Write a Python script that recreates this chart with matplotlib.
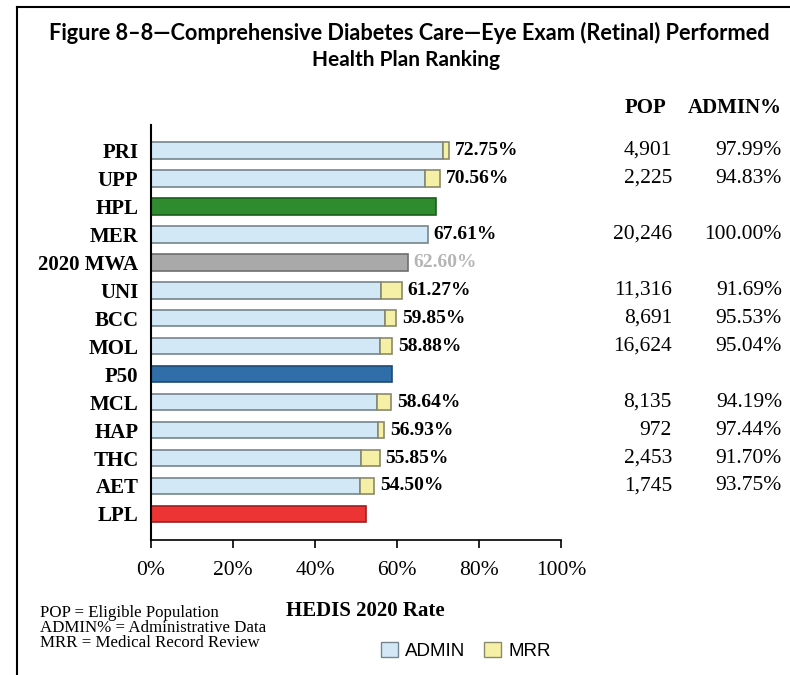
import numpy as np
import matplotlib.pyplot as plt
from matplotlib.patches import Patch
from matplotlib.lines import Line2D
from matplotlib.transforms import blended_transform_factory

plans = ["PRI", "UPP", "HPL", "MER", "2020 MWA", "UNI", "BCC", "MOL",
         "P50", "MCL", "HAP", "THC", "AET", "LPL"]
rates = [72.75, 70.56, 69.59, 67.61, 62.60, 61.27, 59.85, 58.88,
         58.88, 58.64, 56.93, 55.85, 54.50, 52.40]
admin_pct = [97.99, 94.83, None, 100.00, None, 91.69, 95.53, 95.04,
             None, 94.19, 97.44, 91.70, 93.75, None]
pop = ["4,901", "2,225", "", "20,246", "", "11,316", "8,691", "16,624",
       "", "8,135", "972", "2,453", "1,745", ""]

# benchmark rows drawn as single solid bars
bench_colors = {"HPL": ("#2e8b2e", "#1d5e1d"), "2020 MWA": ("#a9a9a9", "#6e6e6e"),
                "P50": ("#2f6ea8", "#1f4a72"), "LPL": ("#ec3434", "#9e1f1f")}

admin_col, admin_edge = "#d3e8f6", "#75858f"
mrr_col, mrr_edge = "#f6f0a6", "#8a8a6a"

serif = "Liberation Serif"
fig = plt.figure(figsize=(7.9, 6.75), dpi=100)
ax = fig.add_axes([0.1911, 0.2, 0.519, 0.6148])

y = np.arange(len(plans))
h = 0.6
for i, p in enumerate(plans):
    if p in bench_colors:
        fc, ec = bench_colors[p]
        ax.barh(i, rates[i], height=h, color=fc, edgecolor=ec, linewidth=1.2)
    else:
        a = rates[i] * admin_pct[i] / 100
        ax.barh(i, a, height=h, color=admin_col, edgecolor=admin_edge, linewidth=1.2)
        if rates[i] - a > 0:
            ax.barh(i, rates[i] - a, left=a, height=h, color=mrr_col,
                    edgecolor=mrr_edge, linewidth=1.2)
    if p in ("HPL", "P50", "LPL"):
        continue
    lc = "#b5b5b5" if p == "2020 MWA" else "black"
    ax.annotate(f"{rates[i]:.2f}%", (rates[i], i), xytext=(4, 0),
                textcoords="offset points", va="center", ha="left",
                fontsize=14, fontweight="bold", family=serif, color=lc)

ax.set_xlim(0, 100)
ax.set_ylim(13.93, -0.9)
ax.set_yticks(y)
ax.set_yticklabels(plans, fontsize=15, fontweight="bold", family=serif)
ax.tick_params(axis="y", length=0, pad=9)
ax.set_xticks(np.arange(0, 101, 20))
ax.set_xticklabels([f"{v}%" for v in range(0, 101, 20)], fontsize=15.5, family=serif)
ax.tick_params(axis="x", direction="out", length=6, width=1.2, pad=9)
for s in ("top", "right"):
    ax.spines[s].set_visible(False)
ax.spines["left"].set_linewidth(1.5)
ax.spines["bottom"].set_linewidth(1.2)

# POP and ADMIN% columns to the right of the bars
tr = blended_transform_factory(fig.transFigure, ax.transData)
for i in range(len(plans)):
    if pop[i]:
        ax.text(672 / 790, i, pop[i], transform=tr, ha="right", va="center",
                fontsize=15.5, family=serif)
        ax.text(782 / 790, i, f"{admin_pct[i]:.2f}%", transform=tr, ha="right",
                va="center", fontsize=15.5, family=serif)
fig.text(666 / 790, 1 - 108 / 675, "POP", ha="right", va="center",
         fontsize=15, fontweight="bold", family=serif)
fig.text(782 / 790, 1 - 108 / 675, "ADMIN%", ha="right", va="center",
         fontsize=15, fontweight="bold", family=serif)

fig.text(409 / 790, 1 - 33 / 675,
         "Figure 8\u20138\u2014Comprehensive Diabetes Care\u2014Eye Exam (Retinal) Performed",
         ha="center", va="center", fontsize=15.7, fontweight="bold", family="Lato")
fig.text(406 / 790, 1 - 60 / 675, "Health Plan Ranking", ha="center", va="center",
         fontsize=15, fontweight="bold", family="Lato")

fig.text(365 / 790, 1 - 611 / 675, "HEDIS 2020 Rate", ha="center", va="center",
         fontsize=15, fontweight="bold", family=serif)
fig.text(40 / 790, 1 - 628 / 675,
         "POP = Eligible Population\nADMIN% = Administrative Data\nMRR = Medical Record Review",
         ha="left", va="center", fontsize=12.2, family=serif, linespacing=0.93)

handles = [Patch(facecolor=admin_col, edgecolor=admin_edge, label="ADMIN"),
           Patch(facecolor=mrr_col, edgecolor=mrr_edge, label="MRR")]
fig.legend(handles=handles, loc="center", bbox_to_anchor=(466 / 790, 1 - 651 / 675),
           ncol=2, frameon=False, prop={"family": "Liberation Sans", "size": 13.5},
           handlelength=0.9, handleheight=0.9, handletextpad=0.4, columnspacing=1.0)

# frame lines along the top and left edges
fig.add_artist(Line2D([17 / 790, 1], [1 - 7 / 675] * 2, color="black", lw=1.5,
                      transform=fig.transFigure))
fig.add_artist(Line2D([17 / 790] * 2, [0, 1 - 7 / 675], color="black", lw=1.5,
                      transform=fig.transFigure))

fig.savefig("out.png", dpi=100)
